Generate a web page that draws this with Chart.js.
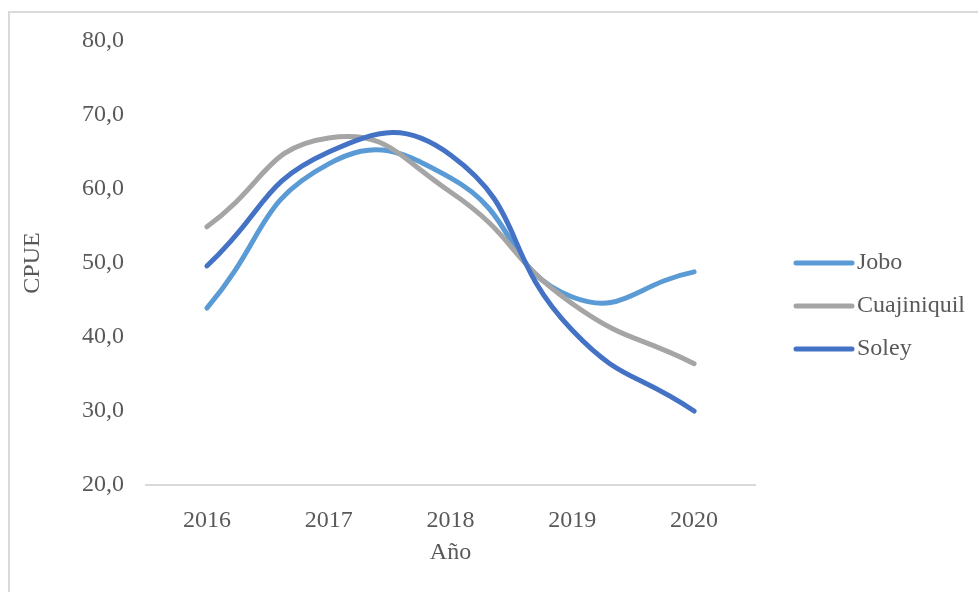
<!DOCTYPE html>
<html>
<head>
<meta charset="utf-8">
<title>CPUE por año</title>
<script src="https://cdn.jsdelivr.net/npm/chart.js@4.4.1/dist/chart.umd.min.js"></script>
<style>
  html, body { margin: 0; padding: 0; background: #ffffff; }
  #wrap { position: relative; width: 978px; height: 592px; overflow: hidden; }
  #frame { position: absolute; left: 8px; top: 11px; width: 1100px; height: 800px;
           border: 2px solid #d9d9d9; box-sizing: border-box; }
  #c { position: absolute; left: 0; top: 0; }
</style>
</head>
<body>
<div id="wrap">
  <div id="frame"></div>
  <canvas id="c" width="978" height="592"></canvas>
</div>
<script>
// Años de muestreo (eje X)
const years = ['2016', '2017', '2018', '2019', '2020'];

// CPUE por sitio
const jobo        = [43.9, 63.4, 61.5, 45.4, 48.8];
const cuajiniquil = [54.9, 66.9, 59.6, 44.5, 36.4];
const soley       = [49.6, 65.0, 64.6, 40.9, 30.0];

// Eje Y
const yMin = 20;
const yMax = 80;
const yStep = 10;

const seriesNames  = ['Jobo', 'Cuajiniquil', 'Soley'];
const seriesColors = ['#5B9BD5', '#A5A5A5', '#4472C4'];
const seriesValues = [jobo, cuajiniquil, soley];

const FONT = 'Liberation Serif, "Times New Roman", serif';
const TEXT = '#595959';
const FS = 24;

// Leyenda a la derecha del área de trazado
const sideLegend = {
  id: 'sideLegend',
  afterDraw(chart) {
    const ctx = chart.ctx;
    const x0 = 796, len = 56, gap = 5, y0 = 263, dy = 43;
    ctx.save();
    chart.data.datasets.forEach((ds, i) => {
      const y = y0 + i * dy;
      ctx.strokeStyle = ds.borderColor;
      ctx.lineWidth = 5;
      ctx.lineCap = 'round';
      ctx.beginPath();
      ctx.moveTo(x0, y);
      ctx.lineTo(x0 + len, y);
      ctx.stroke();
      ctx.fillStyle = TEXT;
      ctx.font = FS + 'px ' + FONT;
      ctx.textAlign = 'left';
      ctx.textBaseline = 'middle';
      ctx.fillText(ds.label, x0 + len + gap, y);
    });
    ctx.restore();
  }
};

const datasets = seriesNames.map((name, i) => ({
  label: name,
  data: seriesValues[i],
  borderColor: seriesColors[i],
  backgroundColor: seriesColors[i],
  borderWidth: 5,
  borderCapStyle: 'round',
  borderJoinStyle: 'round',
  pointRadius: 0,
  pointHoverRadius: 0,
  tension: 0.5,
  fill: false,
  order: seriesNames.length - 1 - i
}));

new Chart(document.getElementById('c'), {
  type: 'line',
  data: { labels: years, datasets },
  plugins: [sideLegend],
  options: {
    responsive: false,
    animation: false,
    devicePixelRatio: 1,
    layout: { padding: { top: 41, right: 223, bottom: 0, left: 0 } },
    plugins: {
      legend: { display: false },
      tooltip: { enabled: false }
    },
    scales: {
      x: {
        offset: true,
        grid: { display: false, drawTicks: false },
        border: { display: true, color: '#d9d9d9', width: 2 },
        ticks: { color: TEXT, font: { family: FONT, size: FS }, padding: 21, maxRotation: 0 },
        title: { display: true, text: 'Año', color: TEXT,
                 font: { family: FONT, size: FS }, padding: { top: 0, bottom: 25 } },
        afterFit(scale) { scale.height = 107; }
      },
      y: {
        min: yMin,
        max: yMax,
        grid: { display: false, drawTicks: false },
        border: { display: false },
        ticks: {
          stepSize: yStep,
          color: TEXT,
          font: { family: FONT, size: FS },
          padding: 22,
          callback: v => v.toFixed(1).replace('.', ',')
        },
        title: { display: true, text: 'CPUE', color: TEXT,
                 font: { family: FONT, size: FS }, padding: { top: 18, bottom: 0 } },
        afterFit(scale) { scale.width = 146; }
      }
    }
  }
});
</script>
</body>
</html>
